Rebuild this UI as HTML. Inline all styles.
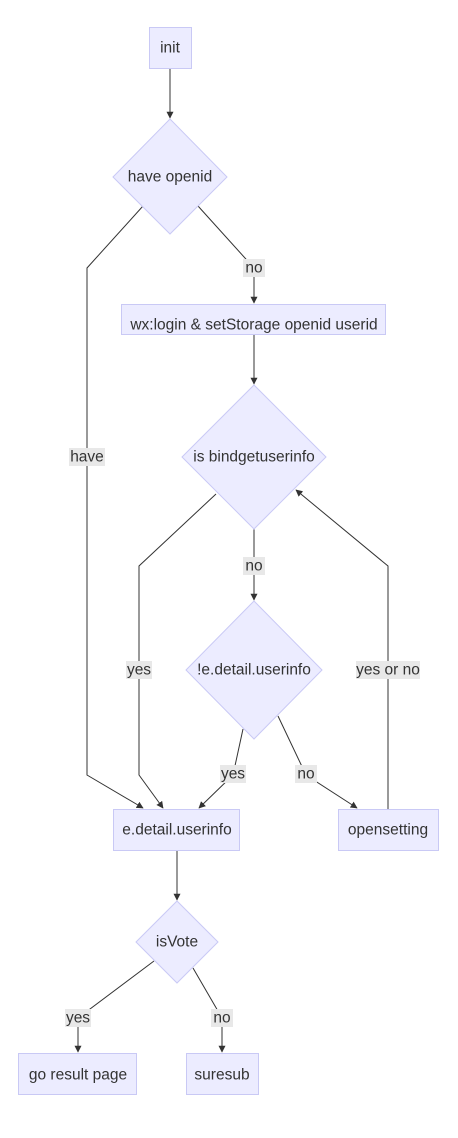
<!DOCTYPE html>
<html><head><style>
body{margin:0;background:#fff;}
svg{display:block;font-family:"Liberation Sans",sans-serif;}
.n{fill:#ececff;stroke:#c9c9f5;stroke-width:1;}
.t{font-size:15.5px;fill:#333;text-anchor:middle;dominant-baseline:central;}
.e{fill:none;stroke:#333;stroke-width:1;}
.lb{fill:#e8e8e8;}
</style></head><body>
<svg width="458" height="1138" viewBox="0 0 458 1138">
<defs><marker id="a" viewBox="0 0 10 10" refX="9" refY="5" markerWidth="7" markerHeight="7" orient="auto"><path d="M0,0L10,5L0,10z" fill="#333"/></marker></defs>
<path class="e" d="M170,68V118" marker-end="url(#a)"/>
<path class="e" d="M143,206L87,268V775L143,808" marker-end="url(#a)"/>
<path class="e" d="M198,206L254,268V303" marker-end="url(#a)"/>
<path class="e" d="M254,334V384" marker-end="url(#a)"/>
<path class="e" d="M216,494L139,566V775L163,808" marker-end="url(#a)"/>
<path class="e" d="M254,529V600" marker-end="url(#a)"/>
<path class="e" d="M243,729L233,775L199,808" marker-end="url(#a)"/>
<path class="e" d="M278,716L306,775L357,808" marker-end="url(#a)"/>
<path class="e" d="M388,809V566L296,490" marker-end="url(#a)"/>
<path class="e" d="M177,850V900" marker-end="url(#a)"/>
<path class="e" d="M154,961L78,1018V1052" marker-end="url(#a)"/>
<path class="e" d="M193,968L222,1018V1052" marker-end="url(#a)"/>
<rect class="n" x="149.5" y="27.5" width="42" height="41"/><text class="t" x="170" y="48">init</text>
<polygon class="n" points="170,119 227,177 170,234 113,177"/><text class="t" x="170" y="177">have openid</text>
<rect class="n" x="121.5" y="304.5" width="264" height="30"/><text class="t" x="254" y="325">wx:login &amp; setStorage openid userid</text>
<polygon class="n" points="254,385 326,457 254,529 182,457"/><text class="t" x="254" y="457">is bindgetuserinfo</text>
<polygon class="n" points="254,601 322,670 254,739 186,670"/><text class="t" x="254" y="670">!e.detail.userinfo</text>
<rect class="n" x="113.5" y="809.5" width="126" height="41"/><text class="t" x="177" y="830">e.detail.userinfo</text>
<rect class="n" x="338.5" y="809.5" width="100" height="41"/><text class="t" x="388" y="830">opensetting</text>
<polygon class="n" points="177,901 218,942 177,983 136,942"/><text class="t" x="177" y="942">isVote</text>
<rect class="n" x="18.5" y="1053.5" width="118" height="41"/><text class="t" x="78" y="1075">go result page</text>
<rect class="n" x="186.5" y="1053.5" width="72" height="41"/><text class="t" x="222" y="1075">suresub</text>
<rect class="lb" x="69" y="448" width="36" height="18"/><text class="t" x="87" y="457">have</text>
<rect class="lb" x="243" y="259" width="22" height="18"/><text class="t" x="254" y="268">no</text>
<rect class="lb" x="126" y="661" width="26" height="18"/><text class="t" x="139" y="670">yes</text>
<rect class="lb" x="243" y="557" width="22" height="18"/><text class="t" x="254" y="566">no</text>
<rect class="lb" x="220" y="765" width="26" height="18"/><text class="t" x="233" y="774">yes</text>
<rect class="lb" x="295" y="765" width="22" height="18"/><text class="t" x="306" y="774">no</text>
<rect class="lb" x="356" y="661" width="64" height="18"/><text class="t" x="388" y="670">yes or no</text>
<rect class="lb" x="65" y="1009" width="26" height="18"/><text class="t" x="78" y="1018">yes</text>
<rect class="lb" x="211" y="1009" width="22" height="18"/><text class="t" x="222" y="1018">no</text>
</svg>
</body></html>
